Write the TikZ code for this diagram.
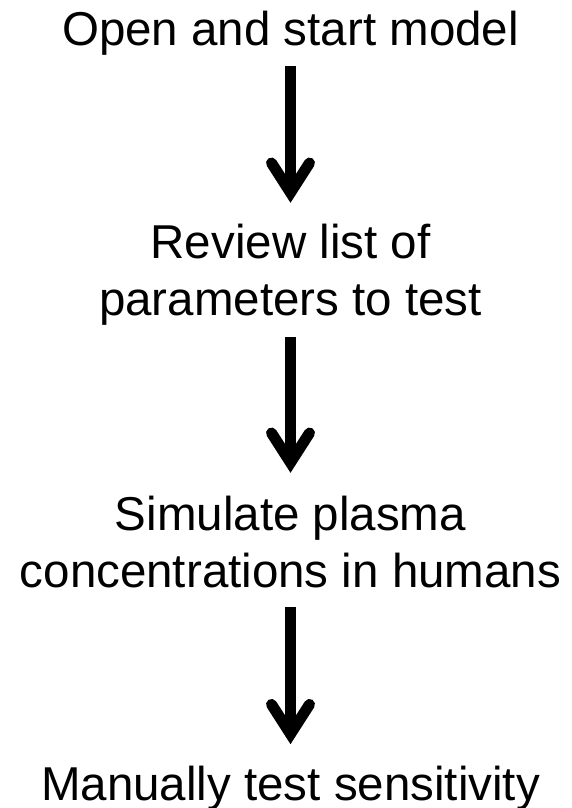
\documentclass[tikz,border=0pt]{standalone}
\usepackage{fontspec}
\setmainfont{Liberation Sans}
\usetikzlibrary{calc}
\begin{document}
\begin{tikzpicture}[x=1pt,y=-1pt,
  lbl/.style={font=\fontsize{47.5}{57}\selectfont, align=center, inner sep=0pt, anchor=base},
  shaft/.style={line width=11pt, line cap=butt},
  barb/.style={line width=11pt, line cap=round, line join=miter}]
\useasboundingbox (0,0) rectangle (571,808);
\node[lbl] (n1) at (290.5,46) {Open and start model};
\node[lbl] (n2) at (290.5,315) {Review list of\\parameters to test};
\node[lbl] (n3) at (290.5,587) {Simulate plasma\\concentrations in humans};
\node[lbl] (n4) at (290.5,800) {Manually test sensitivity};
% arrow 1
\coordinate (v1) at (n1 |- 0,192.6);
\draw[shaft] (n1 |- 0,66) -- (v1);
\draw[barb] ($(v1)+(-19,-29.6)$) -- (v1) -- ($(v1)+(19,-29.6)$);
% arrow 2
\coordinate (v2) at (n2 |- 0,462.6);
\draw[shaft] (n2 |- 0,337.3) -- (v2);
\draw[barb] ($(v2)+(-19,-29.6)$) -- (v2) -- ($(v2)+(19,-29.6)$);
% arrow 3
\coordinate (v3) at (n3 |- 0,734);
\draw[shaft] (n3 |- 0,607.3) -- (v3);
\draw[barb] ($(v3)+(-19,-29.6)$) -- (v3) -- ($(v3)+(19,-29.6)$);
\end{tikzpicture}
\end{document}
